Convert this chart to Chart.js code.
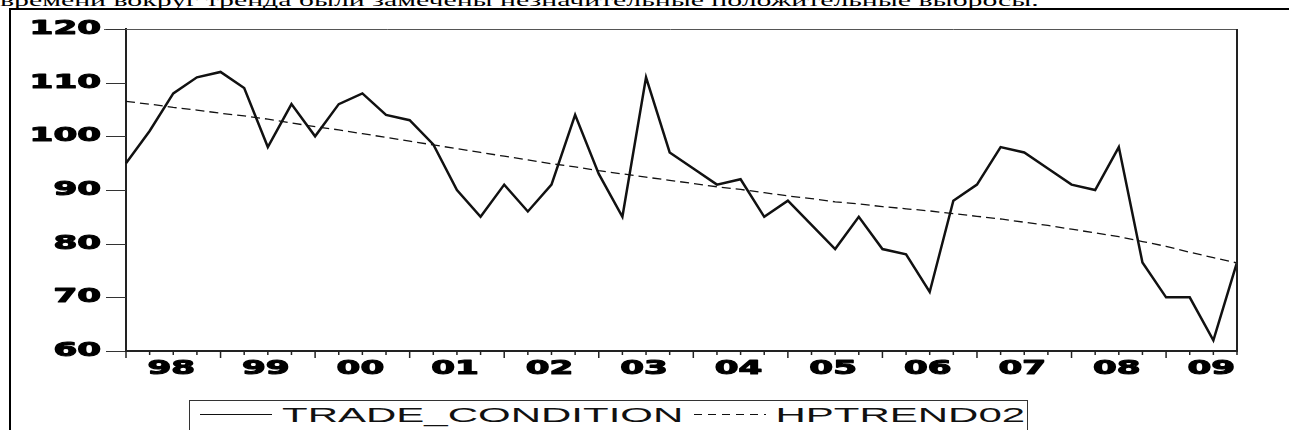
<!DOCTYPE html>
<html lang="ru">
<head>
<meta charset="UTF-8">
<title>TRADE_CONDITION и HPTREND02</title>
<script src="https://cdn.jsdelivr.net/npm/chart.js"></script>
<style>
  html, body { margin: 0; padding: 0; background: #fff; }
  body { width: 1289px; height: 430px; position: relative; overflow: hidden; }
  #textoArriba {
    position: absolute; left: 0; top: -7px;
    font-family: "Liberation Serif", serif; font-size: 16px; line-height: 16px;
    white-space: nowrap; color: #000;
    transform: scaleX(1.86); transform-origin: left top;
  }
  #marco {
    position: absolute; left: 9px; top: 8px; width: 1300px; height: 440px;
    border-top: 2px solid #000; border-left: 2px solid #000;
  }
  #grafica { position: absolute; left: 0; top: 0; }
  #leyenda {
    position: absolute; left: 189px; top: 400px; width: 837px; height: 30px;
    border: 1.5px solid #333; background: #fff; overflow: hidden;
  }
  #leyenda .dentro {
    position: absolute; left: 0; top: 0; height: 27px;
    display: flex; align-items: center; white-space: nowrap;
    font-family: "Liberation Sans", Arial, sans-serif; font-size: 21px; color: #111;
    transform: scaleX(2.0); transform-origin: left center;
  }
  .muestra { display: inline-block; width: 36px; height: 1.5px; }
  .solida { background: #111; margin-left: 5px; margin-right: 5px; }
  .guiones {
    background: repeating-linear-gradient(to right, #111 0 4px, transparent 4px 7px);
    margin-left: 5px; margin-right: 5px;
  }
</style>
</head>
<body>
<div id="textoArriba">времени вокруг тренда были замечены незначительные положительные выбросы.</div>
<div id="marco"></div>
<canvas id="grafica" width="1289" height="430"></canvas>
<div id="leyenda"><div class="dentro"><span class="muestra solida"></span>TRADE_CONDITION<span class="muestra guiones"></span>HPTREND02</div></div>

<script>
// años del eje x (se etiqueta cada año, hay 4 trimestres por año)
const anios = ['98', '99', '00', '01', '02', '03', '04', '05', '06', '07', '08', '09'];
const trimestres = anios.flatMap(a => ['Q1', 'Q2', 'Q3', 'Q4'].map(q => a + ' ' + q));

const tradeCondition = [95, 101, 108, 111, 112, 109, 98, 106, 100, 106, 108, 104,
                        103, 98.5, 90, 85, 91, 86, 91, 104, 93, 85, 111, 97,
                        94, 91, 92, 85, 88, 83.5, 79, 85, 79, 78, 71, 88,
                        91, 98, 97, 94, 91, 90, 98, 76.5, 70, 70, 62, 76.5];

const hpTrend02 = [106.5, 106.0, 105.4, 104.9, 104.3, 103.8, 103.2, 102.5, 101.8, 101.2, 100.5, 99.8,
                   99.1, 98.4, 97.7, 97.0, 96.3, 95.6, 94.9, 94.3, 93.6, 93.0, 92.4, 91.8,
                   91.2, 90.6, 90.1, 89.5, 88.9, 88.4, 87.8, 87.4, 86.9, 86.5, 86.1, 85.6,
                   85.1, 84.6, 84.0, 83.4, 82.7, 82.0, 81.3, 80.4, 79.5, 78.4, 77.4, 76.4];

const ejeY = { min: 60, max: 120, paso: 10 };

// la imagen original esta estirada a lo ancho, asi que el texto se dibuja estirado
const ESTIRA = 1.8;

function textoGrueso(ctx, txt, x, y) {
  ctx.save();
  ctx.translate(x, y);
  ctx.scale(ESTIRA, 1);
  ctx.fillText(txt, 0, 0);
  ctx.strokeText(txt, 0, 0);
  ctx.restore();
}

const marcasYTextos = {
  id: 'marcasYTextos',
  afterDraw(chart) {
    const ctx = chart.ctx;
    const x = chart.scales.x, y = chart.scales.y;
    const area = chart.chartArea;
    ctx.save();

    // borde superior y derecho del area
    ctx.strokeStyle = '#555'; ctx.lineWidth = 1;
    ctx.beginPath(); ctx.moveTo(area.left - 22, area.top + 0.5); ctx.lineTo(area.right, area.top + 0.5); ctx.stroke();
    ctx.strokeStyle = '#222'; ctx.lineWidth = 2;
    ctx.beginPath(); ctx.moveTo(area.right, area.top); ctx.lineTo(area.right, area.bottom); ctx.stroke();

    // marcas del eje y
    ctx.strokeStyle = '#333'; ctx.lineWidth = 1;
    y.ticks.forEach((t, i) => {
      const py = Math.round(y.getPixelForTick(i)) + 0.5;
      ctx.beginPath(); ctx.moveTo(area.left - 20, py); ctx.lineTo(area.left, py); ctx.stroke();
    });

    // marcas del eje x: largas en el primer trimestre
    ctx.strokeStyle = '#222'; ctx.lineWidth = 1.5;
    x.ticks.forEach((t, i) => {
      const px = x.getPixelForTick(i);
      const largo = i % 4 === 0 ? 7 : 4;
      ctx.beginPath(); ctx.moveTo(px, area.bottom); ctx.lineTo(px, area.bottom + largo); ctx.stroke();
    });

    ctx.font = 'bold 19px "DejaVu Sans"';
    ctx.fillStyle = '#000';
    ctx.strokeStyle = '#000';
    ctx.lineWidth = 1.1;
    ctx.lineJoin = 'round';
    ctx.textBaseline = 'middle';

    ctx.textAlign = 'right';
    y.ticks.forEach((t, i) => {
      textoGrueso(ctx, t.label, 101, y.getPixelForTick(i));
    });

    ctx.textAlign = 'center';
    x.ticks.forEach((t, i) => {
      if (!t.label) return;
      textoGrueso(ctx, t.label, x.getPixelForTick(i) - 2, 369);
    });
    ctx.restore();
  }
};

new Chart(document.getElementById('grafica').getContext('2d'), {
  type: 'line',
  data: {
    labels: trimestres,
    datasets: [
      {
        label: 'TRADE_CONDITION',
        data: tradeCondition,
        borderColor: '#111',
        borderWidth: 2.5,
        pointRadius: 0,
        tension: 0
      },
      {
        label: 'HPTREND02',
        data: hpTrend02,
        borderColor: '#111',
        borderWidth: 1.3,
        borderDash: [9, 5],
        pointRadius: 0,
        tension: 0
      }
    ]
  },
  options: {
    responsive: false,
    animation: false,
    layout: { padding: { left: 0, top: 29, right: 52, bottom: 0 } },
    plugins: { legend: { display: false }, tooltip: { enabled: false } },
    scales: {
      x: {
        type: 'category',
        offset: false,
        grid: { display: false },
        border: { display: true, color: '#222', width: 2 },
        ticks: {
          display: false,
          autoSkip: false,
          callback: (v, i) => (i % 4 === 2 ? anios[Math.floor(i / 4)] : '')
        },
        afterFit: s => { s.height = 79; }
      },
      y: {
        min: ejeY.min,
        max: ejeY.max,
        grid: { display: false },
        border: { display: true, color: '#222', width: 2 },
        ticks: { display: false, stepSize: ejeY.paso },
        afterFit: s => { s.width = 126; }
      }
    }
  },
  plugins: [marcasYTextos]
});
</script>
</body>
</html>
